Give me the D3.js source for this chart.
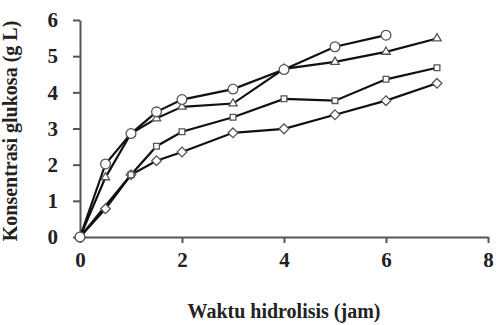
<!DOCTYPE html>
<html>
<head>
<meta charset="utf-8">
<script src="https://cdn.jsdelivr.net/npm/d3@7"></script>
<style>
  body { margin: 0; background: #fff; }
  text { font-family: "Liberation Serif", "DejaVu Serif", serif; }
</style>
</head>
<body>
<div id="container"></div>
<script>
// Data
const hours = [0, 0.5, 1, 1.5, 2, 3, 4, 5, 6, 7];
const hoursNoHalf = [0, 1, 1.5, 2, 3, 4, 5, 6, 7];
const circleSeries = [0, 2.02, 2.86, 3.46, 3.80, 4.09, 4.63, 5.26, 5.58];
const triangleSeries = [0, 1.65, 2.86, 3.28, 3.60, 3.69, 4.65, 4.84, 5.12, 5.49];
const squareSeries = [0, 1.72, 2.51, 2.91, 3.31, 3.82, 3.77, 4.36, 4.68];
const diamondSeries = [0, 0.78, 1.72, 2.11, 2.35, 2.88, 2.99, 3.38, 3.77, 4.25];
const xTicks = [0, 2, 4, 6, 8];
const yTicks = [0, 1, 2, 3, 4, 5, 6];

const series = [
  { name: "diamond", xs: hours, values: diamondSeries, symbol: d3.symbolDiamond2, size: 60 },
  { name: "square", xs: hoursNoHalf, values: squareSeries, symbol: d3.symbolSquare2, size: 42 },
  { name: "triangle", xs: hours, values: triangleSeries, symbol: d3.symbolTriangle2, size: 50 },
  { name: "circle", xs: hours, values: circleSeries, symbol: d3.symbolCircle, size: 75 }
];

const width = 496;
const height = 325;

const x = d3.scaleLinear().domain([0, 8]).range([80, 488]);
const y = d3.scaleLinear().domain([0, 6]).range([237, 20]);

const svg = d3
  .select("#container")
  .append("svg")
  .attr("width", width)
  .attr("height", height);

// Axes
const xAxis = svg
  .append("g")
  .attr("transform", "translate(0," + y(0) + ")")
  .call(
    d3.axisBottom(x).tickValues(xTicks).tickFormat(d3.format("d"))
      .tickSize(6).tickPadding(9).tickSizeOuter(0)
  );

const yAxis = svg
  .append("g")
  .attr("transform", "translate(" + x(0) + ",0)")
  .call(
    d3.axisLeft(y).tickValues(yTicks).tickFormat(d3.format("d"))
      .tickSize(7).tickPadding(15).tickSizeOuter(0)
  );

[xAxis, yAxis].forEach((ax) => {
  ax.select(".domain").attr("stroke", "#555").attr("stroke-width", 2);
  ax.selectAll(".tick line").attr("stroke", "#555").attr("stroke-width", 2);
  ax.selectAll(".tick text")
    .attr("fill", "#222")
    .style("font-family", "'Liberation Serif', serif")
    .style("font-weight", "bold")
    .style("font-size", "21px");
});

// Lines
series.forEach((s) => {
  const line = d3
    .line()
    .x((d, i) => x(s.xs[i]))
    .y((d) => y(d));
  svg
    .append("path")
    .datum(s.values)
    .attr("fill", "none")
    .attr("stroke", "#111")
    .attr("stroke-width", 2.2)
    .attr("d", line);
});

// Markers
series.forEach((s) => {
  svg
    .append("g")
    .selectAll("path")
    .data(s.values)
    .enter()
    .append("path")
    .attr("d", d3.symbol().type(s.symbol).size(s.size))
    .attr("transform", (d, i) => "translate(" + x(s.xs[i]) + "," + y(d) + ")")
    .attr("fill", "#fff")
    .attr("stroke", "#555")
    .attr("stroke-width", 1.3);
});

// Axis titles
svg
  .append("text")
  .attr("x", 284)
  .attr("y", 318)
  .attr("text-anchor", "middle")
  .style("font-weight", "bold")
  .style("font-size", "20px")
  .attr("fill", "#222")
  .text("Waktu hidrolisis (jam)");

svg
  .append("text")
  .attr("transform", "translate(17,131) rotate(-90)")
  .attr("text-anchor", "middle")
  .style("font-weight", "bold")
  .style("font-size", "20px")
  .attr("fill", "#222")
  .text("Konsentrasi glukosa (g L)");
</script>
</body>
</html>
